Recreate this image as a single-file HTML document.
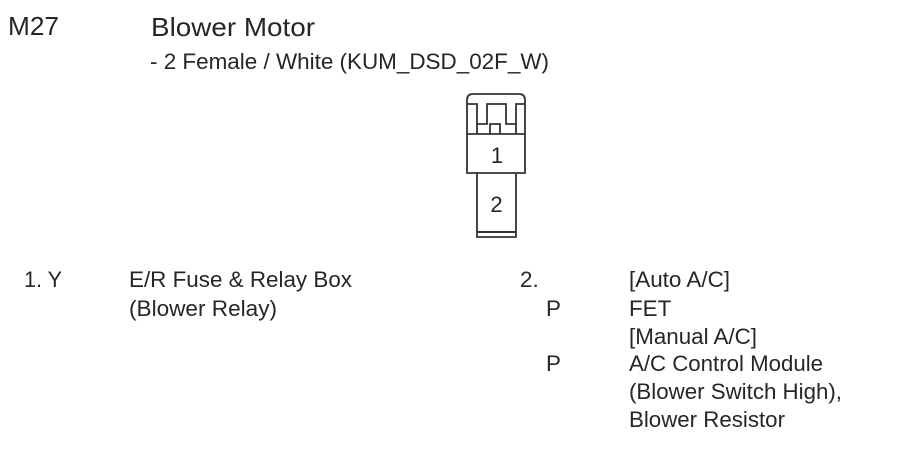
<!DOCTYPE html>
<html>
<head>
<meta charset="utf-8">
<style>
html,body{margin:0;padding:0;background:#fff}
svg{display:block}
text{font-family:"Liberation Sans",sans-serif;fill:#262626;filter:blur(.3px)}
.b{font-size:26px}
.m{font-size:22.4px}
.c{font-size:22px;text-anchor:middle}
</style>
</head>
<body>
<svg width="909" height="453" viewBox="0 0 909 453" xmlns="http://www.w3.org/2000/svg">
<rect width="909" height="453" fill="#fff"/>
<text class="b" x="8" y="35" textLength="51" lengthAdjust="spacingAndGlyphs">M27</text>
<text class="b" x="151" y="36" textLength="164" lengthAdjust="spacingAndGlyphs">Blower Motor</text>
<text class="m" x="150" y="69" textLength="399" lengthAdjust="spacingAndGlyphs">- 2 Female / White (KUM_DSD_02F_W)</text>

<g fill="none" stroke="#333" stroke-width="1.8">
<path d="M467 173V100Q467 94 473 94H519Q525 94 525 100V173Z"/>
<path d="M467 134H525"/>
<path d="M467 104H477V124H487V104H506V124H516V104H525"/>
<path d="M477 124V134M516 124V134"/>
<path d="M490 134V124H500V134"/>
<path d="M477 173V237H516V173"/>
<path d="M477 232H516" stroke-width="2"/>
</g>
<text class="c" x="497" y="163">1</text>
<text class="c" x="496.5" y="212">2</text>

<text class="m" x="24" y="287" textLength="38" lengthAdjust="spacingAndGlyphs">1. Y</text>
<text class="m" x="129" y="287" textLength="223" lengthAdjust="spacingAndGlyphs">E/R Fuse &amp; Relay Box</text>
<text class="m" x="129" y="316" textLength="148" lengthAdjust="spacingAndGlyphs">(Blower Relay)</text>

<text class="m" x="520" y="287">2.</text>
<text class="m" x="546" y="316">P</text>
<text class="m" x="546" y="371">P</text>
<text class="m" x="629" y="287" textLength="101" lengthAdjust="spacingAndGlyphs">[Auto A/C]</text>
<text class="m" x="629" y="316">FET</text>
<text class="m" x="629" y="344" textLength="128" lengthAdjust="spacingAndGlyphs">[Manual A/C]</text>
<text class="m" x="629" y="371" textLength="194" lengthAdjust="spacingAndGlyphs">A/C Control Module</text>
<text class="m" x="629" y="399" textLength="213" lengthAdjust="spacingAndGlyphs">(Blower Switch High),</text>
<text class="m" x="629" y="427" textLength="156" lengthAdjust="spacingAndGlyphs">Blower Resistor</text>
</svg>
</body>
</html>
